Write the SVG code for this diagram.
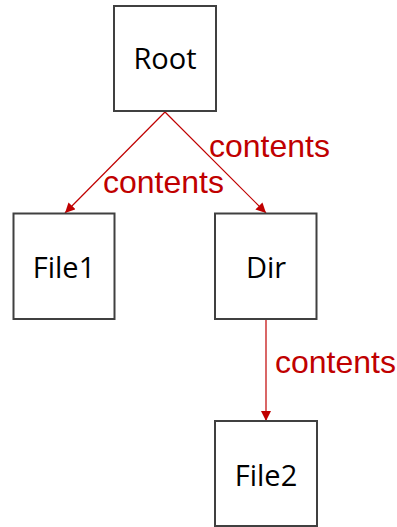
<svg xmlns="http://www.w3.org/2000/svg" width="397" height="527" viewBox="0 0 397 527">
  <style>
    .box { fill: #ffffff; stroke: #404040; stroke-width: 2; }
    .name { font-family: "Open Sans", "Noto Sans", sans-serif; font-size: 29px; fill: #000000; text-anchor: middle; }
    .edge { stroke: #c00000; stroke-width: 1.2; fill: none; }
    .label { font-family: "Liberation Sans", Arial, sans-serif; font-size: 32px; fill: #c00000; }
  </style>
  <defs>
    <marker id="arrow" viewBox="0 0 10 10" refX="10" refY="5" markerWidth="11" markerHeight="10" markerUnits="userSpaceOnUse" orient="auto">
      <path d="M0,0 L10,5 L0,10 z" fill="#c00000"/>
    </marker>
  </defs>

  <!-- connectors -->
  <g id="connectors">
    <line class="edge" x1="165" y1="112" x2="65" y2="213" marker-end="url(#arrow)"/>
    <line class="edge" x1="165" y1="112" x2="266" y2="213" marker-end="url(#arrow)"/>
    <line class="edge" x1="266" y1="320" x2="266" y2="421" marker-end="url(#arrow)"/>
    <text class="label" x="209" y="157">contents</text>
    <text class="label" x="103" y="193">contents</text>
    <text class="label" x="275" y="373">contents</text>
  </g>

  <!-- nodes -->
  <g id="root">
    <rect class="box" x="114" y="6" width="102" height="105"/>
    <text class="name" x="165" y="69">Root</text>
  </g>
  <g id="file1">
    <rect class="box" x="13.5" y="213.5" width="101" height="105.5"/>
    <text class="name" x="64" y="278">File1</text>
  </g>
  <g id="dir">
    <rect class="box" x="215" y="213.5" width="101.5" height="105.5"/>
    <text class="name" x="266" y="278">Dir</text>
  </g>
  <g id="file2">
    <rect class="box" x="215" y="421" width="102" height="105"/>
    <text class="name" x="266" y="486">File2</text>
  </g>
</svg>
